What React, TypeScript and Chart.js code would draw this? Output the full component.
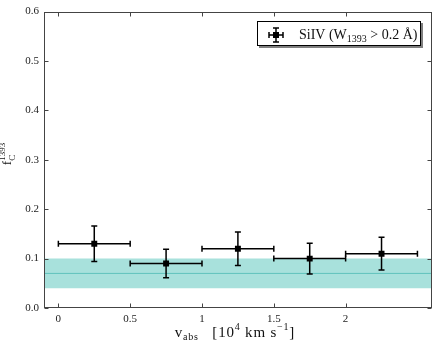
import React, { useEffect, useRef } from "react";
import { Chart, registerables } from "chart.js";
Chart.register(...registerables);

const vCenters = [0.25, 0.75, 1.25, 1.75, 2.25];
const vHalfWidths = [0.25, 0.25, 0.25, 0.25, 0.25];
const fCValues = [0.13, 0.09, 0.12, 0.1, 0.11];
const fCErrors = [0.036, 0.029, 0.034, 0.031, 0.033];
const bandLow = 0.04;
const bandHigh = 0.1;
const bandMid = 0.07;
const xMin = -0.1;
const xMax = 2.6;
const yMin = 0;
const yMax = 0.6;
const xTickValues = [0, 0.5, 1, 1.5, 2];
const xTickLabels = ["0", "0.5", "1", "1.5", "2"];
const yTickValues = [0, 0.1, 0.2, 0.3, 0.4, 0.5, 0.6];
const yTickLabels = ["0.0", "0.1", "0.2", "0.3", "0.4", "0.5", "0.6"];

const FONT = '"Liberation Serif", "DejaVu Serif", serif';

type Seg = { t: string; size: number; dy?: number; noAdvance?: boolean };

function setSpacing(ctx: any, px: number) {
  if ("letterSpacing" in ctx) ctx.letterSpacing = `${px}px`;
}

function richWidth(ctx: CanvasRenderingContext2D, segs: Seg[]) {
  let w = 0;
  for (const s of segs) {
    ctx.font = `${s.size}px ${FONT}`;
    const mw = ctx.measureText(s.t).width;
    if (!s.noAdvance) w += mw;
  }
  return w;
}

function drawRich(ctx: CanvasRenderingContext2D, segs: Seg[], x: number, y: number, align: "left" | "center") {
  let cx = align === "center" ? x - richWidth(ctx, segs) / 2 : x;
  ctx.textAlign = "left";
  ctx.textBaseline = "alphabetic";
  for (const s of segs) {
    ctx.font = `${s.size}px ${FONT}`;
    ctx.fillText(s.t, cx, y + (s.dy || 0));
    if (!s.noAdvance) cx += ctx.measureText(s.t).width;
  }
}

function errorBar(ctx: CanvasRenderingContext2D, px: number, py: number, x1: number, x2: number, y1: number, y2: number, cap: number) {
  ctx.beginPath();
  ctx.moveTo(x1, py);
  ctx.lineTo(x2, py);
  ctx.moveTo(x1, py - cap);
  ctx.lineTo(x1, py + cap);
  ctx.moveTo(x2, py - cap);
  ctx.lineTo(x2, py + cap);
  ctx.moveTo(px, y1);
  ctx.lineTo(px, y2);
  ctx.moveTo(px - cap, y1);
  ctx.lineTo(px + cap, y1);
  ctx.moveTo(px - cap, y2);
  ctx.lineTo(px + cap, y2);
  ctx.stroke();
}

const decoPlugin = {
  id: "deco",
  afterDatasetDraw(chart: any, args: any) {
    if (args.index !== 1) return;
    const ctx: CanvasRenderingContext2D = chart.ctx;
    const xs = chart.scales.x;
    const ys = chart.scales.y;
    ctx.save();
    ctx.strokeStyle = "#000";
    ctx.lineWidth = 1.5;
    for (let i = 0; i < vCenters.length; i++) {
      const px = xs.getPixelForValue(vCenters[i]);
      const py = ys.getPixelForValue(fCValues[i]);
      const x1 = xs.getPixelForValue(vCenters[i] - vHalfWidths[i]);
      const x2 = xs.getPixelForValue(vCenters[i] + vHalfWidths[i]);
      const y1 = ys.getPixelForValue(fCValues[i] + fCErrors[i]);
      const y2 = ys.getPixelForValue(fCValues[i] - fCErrors[i]);
      errorBar(ctx, px, py, x1, x2, y1, y2, 3);
    }
    ctx.restore();
  },
  afterDraw(chart: any) {
    const ctx: CanvasRenderingContext2D = chart.ctx;
    const a = chart.chartArea;
    const xs = chart.scales.x;
    const ys = chart.scales.y;
    const L = Math.round(a.left) + 0.5;
    const R = Math.round(a.right) - 0.5;
    const T = Math.round(a.top) + 0.5;
    const B = Math.round(a.bottom) - 0.5;
    ctx.save();
    ctx.strokeStyle = "#444";
    ctx.lineWidth = 1;
    ctx.strokeRect(L, T, R - L, B - T);
    ctx.beginPath();
    const tl = 4;
    for (const v of xTickValues) {
      const px = Math.round(xs.getPixelForValue(v)) + 0.5;
      ctx.moveTo(px, B);
      ctx.lineTo(px, B - tl);
      ctx.moveTo(px, T);
      ctx.lineTo(px, T + tl);
    }
    for (const v of yTickValues) {
      const py = Math.round(ys.getPixelForValue(v)) + 0.5;
      ctx.moveTo(L, py);
      ctx.lineTo(L + tl, py);
      ctx.moveTo(R, py);
      ctx.lineTo(R - tl, py);
    }
    ctx.stroke();

    // axis titles
    ctx.fillStyle = "#111";
    const cxMid = (a.left + a.right) / 2 - 3;
    ctx.save();
    setSpacing(ctx, 0.8);
    drawRich(
      ctx,
      [
        { t: "v", size: 15 },
        { t: "abs", size: 10, dy: 3 },
        { t: "   [10", size: 15 },
        { t: "4", size: 10, dy: -7 },
        { t: " km s", size: 15 },
        { t: "\u22121", size: 10, dy: -7 },
        { t: "]", size: 15 },
      ],
      cxMid,
      337,
      "center"
    );
    ctx.restore();
    ctx.save();
    ctx.translate(11, 154);
    ctx.rotate(-Math.PI / 2);
    drawRich(
      ctx,
      [
        { t: "f", size: 13 },
        { t: "C", size: 9, dy: 4, noAdvance: true },
        { t: "1393", size: 9, dy: -6 },
      ],
      0,
      0,
      "center"
    );
    ctx.restore();

    // legend
    const bw = 164;
    const bh = 25;
    const bx = Math.round(a.right) - 11 - bw;
    const by = Math.round(a.top) + 9;
    ctx.fillStyle = "rgba(0,0,0,0.5)";
    ctx.fillRect(bx + 2, by + 2, bw, bh);
    ctx.fillStyle = "#fff";
    ctx.fillRect(bx, by, bw, bh);
    ctx.strokeStyle = "#000";
    ctx.lineWidth = 1;
    ctx.strokeRect(bx + 0.5, by + 0.5, bw - 1, bh - 1);
    const mx = bx + 19;
    const my = by + 14;
    ctx.strokeStyle = "#000";
    ctx.lineWidth = 1.5;
    errorBar(ctx, mx, my, mx - 7, mx + 7, my - 7, my + 7, 3);
    ctx.fillStyle = "#000";
    ctx.fillRect(mx - 3, my - 3, 6, 6);
    ctx.fillStyle = "#111";
    drawRich(
      ctx,
      [
        { t: "SiIV (W", size: 14 },
        { t: "1393", size: 10, dy: 3 },
        { t: " > 0.2 \u00C5)", size: 14 },
      ],
      bx + 42,
      by + 18,
      "left"
    );
    ctx.restore();
  },
};

export default function App() {
  const ref = useRef<HTMLCanvasElement | null>(null);
  useEffect(() => {
    if (!ref.current) return;
    const pts = vCenters.map((x, i) => ({ x, y: fCValues[i] }));
    const chart = new Chart(ref.current, {
      type: "scatter",
      data: {
        datasets: [
          {
            label: "SiIV",
            data: pts,
            pointStyle: "rect",
            pointRadius: 4.2,
            pointBackgroundColor: "#000",
            pointBorderColor: "#000",
            pointBorderWidth: 0,
            showLine: false,
          } as any,
          {
            label: "mid",
            data: [
              { x: xMin, y: bandMid },
              { x: xMax, y: bandMid },
            ],
            showLine: true,
            pointRadius: 0,
            borderColor: "rgb(96,194,188)",
            borderWidth: 1,
            fill: false,
          },
          {
            label: "high",
            data: [
              { x: xMin, y: bandHigh },
              { x: xMax, y: bandHigh },
            ],
            showLine: true,
            pointRadius: 0,
            borderWidth: 0,
            borderColor: "rgba(0,0,0,0)",
            backgroundColor: "rgb(168,225,220)",
            fill: "+1",
          },
          {
            label: "low",
            data: [
              { x: xMin, y: bandLow },
              { x: xMax, y: bandLow },
            ],
            showLine: true,
            pointRadius: 0,
            borderWidth: 0,
            borderColor: "rgba(0,0,0,0)",
            fill: false,
          },
        ],
      },
      options: {
        animation: false,
        responsive: false,
        devicePixelRatio: 1,
        layout: { padding: { left: 0, right: 3, top: 8, bottom: 0 } },
        plugins: { legend: { display: false }, tooltip: { enabled: false } },
        scales: {
          x: {
            type: "linear",
            min: xMin,
            max: xMax,
            grid: { display: false, drawTicks: false },
            border: { display: false },
            afterBuildTicks: (s: any) => {
              s.ticks = xTickValues.map((v) => ({ value: v }));
            },
            afterFit: (s: any) => {
              s.height = 40;
            },
            ticks: {
              padding: 5,
              color: "#222",
              font: { family: FONT, size: 11 },
              maxRotation: 0,
              callback: (v: any) => {
                const i = xTickValues.indexOf(Number(v));
                return i >= 0 ? xTickLabels[i] : "";
              },
            },
          },
          y: {
            type: "linear",
            min: yMin,
            max: yMax,
            grid: { display: false, drawTicks: false },
            border: { display: false },
            afterBuildTicks: (s: any) => {
              s.ticks = yTickValues.map((v) => ({ value: v }));
            },
            afterFit: (s: any) => {
              s.width = 44;
            },
            ticks: {
              padding: 5,
              color: "#222",
              font: { family: FONT, size: 11 },
              callback: (v: any) => {
                const i = yTickValues.findIndex((t) => Math.abs(t - Number(v)) < 1e-9);
                return i >= 0 ? yTickLabels[i] : "";
              },
            },
          },
        },
      },
      plugins: [decoPlugin],
    });
    return () => chart.destroy();
  }, []);
  return (
    <div style={{ position: "fixed", left: 0, top: 0, width: 436, height: 348, background: "#fff" }}>
      <canvas ref={ref} width={436} height={348} style={{ width: 436, height: 348, display: "block" }} />
    </div>
  );
}
